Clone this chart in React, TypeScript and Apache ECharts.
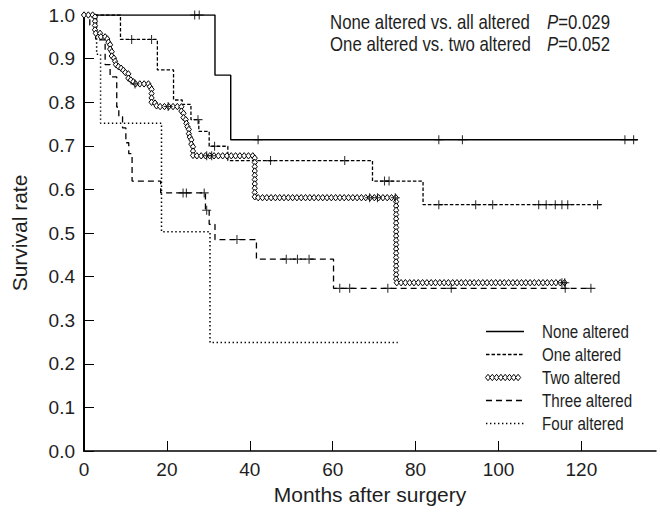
import React, { useEffect, useRef } from "react";
import * as echarts from "echarts";

// ---------- data ----------
const xTickValues = [0, 20, 40, 60, 80, 100, 120];

const seriesNames = ["None altered", "One altered", "Two altered", "Three altered", "Four altered"];

const noneT = [0, 31.6, 35.4, 133.6];
const noneS = [1.0, 0.862, 0.714, 0.714];
const noneCensT = [26.7, 27.8, 42.0, 85.6, 91.3, 130.5, 132.6];
const noneCensS = [1.0, 1.0, 0.714, 0.714, 0.714, 0.714, 0.714];

const oneT = [0, 8.8, 17.7, 21.6, 23.7, 25.8, 27.7, 30.2, 34.7, 69.6, 81.8, 124.7];
const oneS = [1.0, 0.944, 0.874, 0.805, 0.795, 0.76, 0.733, 0.699, 0.666, 0.619, 0.565, 0.565];
const oneCensT = [11.5, 16.3, 27.5, 31.5, 45.0, 62.9, 72.5, 73.6, 85.6, 94.5, 98.6, 109.7, 111.5, 113.7, 115.3, 116.7, 123.9];
const oneCensS = [0.944, 0.944, 0.76, 0.699, 0.666, 0.666, 0.619, 0.619, 0.565, 0.565, 0.565, 0.565, 0.565, 0.565, 0.565, 0.565, 0.565];

const twoT = [0, 2.65, 3.9, 5.1, 5.9, 6.3, 6.7, 7.5, 8.3, 9.5, 10.7, 11.9, 15.9, 16.3, 17.5, 23.5, 24.0, 24.7, 25.3, 25.9, 26.3, 41.2, 75.3, 116.1];
const twoS = [1.0, 0.958, 0.95, 0.945, 0.937, 0.92, 0.901, 0.886, 0.878, 0.868, 0.851, 0.842, 0.835, 0.798, 0.79, 0.775, 0.76, 0.744, 0.72, 0.699, 0.677, 0.581, 0.386, 0.386];
const twoCensT = [12.3, 20.3, 29.6, 30.8, 68.9, 70.8, 75.1, 115.3, 116.0];
const twoCensS = [0.842, 0.79, 0.677, 0.677, 0.581, 0.581, 0.581, 0.386, 0.386];

const threeT = [0, 1.4, 2.8, 5.1, 6.3, 7.9, 8.4, 9.3, 10.1, 10.8, 11.6, 18.5, 29.3, 30.2, 31.6, 41.6, 60.2, 122.4];
const threeS = [1.0, 0.977, 0.943, 0.886, 0.858, 0.789, 0.767, 0.741, 0.707, 0.682, 0.619, 0.592, 0.552, 0.52, 0.485, 0.44, 0.373, 0.373];
const threeCensT = [23.9, 24.7, 29.0, 29.6, 36.9, 48.8, 51.5, 54.3, 61.7, 64.1, 73.3, 88.6, 116.1, 122.3];
const threeCensS = [0.592, 0.592, 0.592, 0.552, 0.485, 0.44, 0.44, 0.44, 0.373, 0.373, 0.373, 0.373, 0.373, 0.373];

const fourT = [0, 3.05, 4.0, 18.7, 30.4, 75.7];
const fourS = [1.0, 0.91, 0.752, 0.503, 0.249, 0.249];

const pLines = [
  { label: "None altered vs. all altered", p: "0.029" },
  { label: "One altered vs. two altered", p: "0.052" },
];

// ---------- styling ----------
const FONT = '"Liberation Sans", Arial, Helvetica, sans-serif';
const NARROW = 0.82; // horizontal squeeze to imitate a condensed face
const INK = "#1e1e1e";
const PLUS = "path://M0,4.4H10V5.6H0Z M4.4,0H5.6V10H4.4Z";
const DASH_ONE = [3.5, 2];
const DASH_THREE = [6, 4];
const DASH_FOUR = [1.4, 2.6];

const zip = (a: number[], b: number[]) => a.map((v, i) => [v, b[i]]);

function diamond(x: number, y: number) {
  return {
    type: "polygon",
    shape: { points: [[x, y - 3.2], [x + 2.6, y], [x, y + 3.2], [x - 2.6, y]] },
    style: { fill: "#fff", stroke: "#000", lineWidth: 1 },
    silent: true,
  };
}

function diamondsAlong(path: number[][], spacing: number) {
  const out: any[] = [];
  let carry = 0;
  for (let i = 0; i < path.length - 1; i++) {
    const [ax, ay] = path[i];
    const [bx, by] = path[i + 1];
    const len = Math.hypot(bx - ax, by - ay);
    let d = carry;
    while (d <= len) {
      const f = len === 0 ? 0 : d / len;
      out.push(diamond(ax + (bx - ax) * f, ay + (by - ay) * f));
      d += spacing;
    }
    carry = d - len;
  }
  return out;
}

function kmLine(name: string, t: number[], s: number[], dash: any, width = 1.3) {
  return {
    name,
    type: "line",
    step: "end",
    data: zip(t, s),
    showSymbol: false,
    symbol: "none",
    lineStyle: { color: "#000", width, type: dash },
    silent: true,
    z: 3,
  };
}

function cens(name: string, t: number[], s: number[]) {
  return {
    name: name + " censored",
    type: "scatter",
    data: zip(t, s),
    symbol: PLUS,
    symbolSize: 9,
    itemStyle: { color: "#000" },
    silent: true,
    z: 6,
  };
}

function narrowText(text: string, x: number, y: number, size: number, extra: any = {}) {
  return {
    type: "text",
    x,
    y,
    scaleX: NARROW,
    style: { text, fill: INK, fontSize: size, fontFamily: FONT, align: "left", verticalAlign: "middle", ...extra },
    silent: true,
  };
}

function legendGraphic() {
  const x1 = 486;
  const x2 = 524;
  const tx = 542;
  const y0 = 331.5;
  const dy = 23;
  const dashes = [null, DASH_ONE, "diamond", DASH_THREE, DASH_FOUR];
  const els: any[] = [];
  seriesNames.forEach((name, i) => {
    const y = y0 + i * dy;
    const d = dashes[i];
    if (d === "diamond") {
      els.push(...diamondsAlong([[x1 + 2, y], [x2 - 2, y]], 4.3));
    } else {
      els.push({
        type: "line",
        shape: { x1, y1: y, x2, y2: y },
        style: { stroke: "#000", lineWidth: 1.3, lineDash: d || null },
        silent: true,
      });
    }
    els.push(narrowText(name, tx, y, 18.5));
  });
  return els;
}

function annotationGraphic() {
  const els: any[] = [];
  pLines.forEach((ln, i) => {
    const y = 22 + i * 21.5;
    els.push(narrowText(ln.label, 330, y, 20.5));
    els.push(
      narrowText("{i|P}=" + ln.p, 547, y, 20.5, {
        rich: { i: { fontStyle: "italic", fontSize: 20.5, fontFamily: FONT, fill: INK } },
      })
    );
  });
  return els;
}

export default function App() {
  const ref = useRef<HTMLDivElement>(null);

  useEffect(() => {
    if (!ref.current) return;
    const chart = echarts.init(ref.current, null, { renderer: "svg" });

    const twoData = zip(twoT, twoS);

    const option: any = {
      animation: false,
      backgroundColor: "#fff",
      grid: { left: 84, right: 4, top: 15, bottom: 64, containLabel: false },
      xAxis: {
        type: "value",
        min: 0,
        max: 138,
        name: "Months after surgery",
        nameLocation: "middle",
        nameGap: 32,
        nameTextStyle: { fontSize: 21, fontFamily: FONT, color: INK },
        axisLine: { show: true, onZero: false, lineStyle: { color: "#000", width: 1.5 } },
        axisTick: { show: true, inside: true, length: 10, customValues: xTickValues, lineStyle: { color: "#000", width: 1 } },
        axisLabel: {
          customValues: xTickValues,
          fontSize: 19,
          fontFamily: FONT,
          color: INK,
          margin: 9,
          formatter: (v: number) => (v % 20 === 0 ? String(v) : ""),
        },
        splitLine: { show: false },
      },
      yAxis: {
        type: "value",
        min: 0,
        max: 1,
        interval: 0.1,
        name: "Survival rate",
        nameLocation: "middle",
        nameGap: 54,
        nameTextStyle: { fontSize: 21, fontFamily: FONT, color: INK },
        axisLine: { show: true, onZero: false, lineStyle: { color: "#000", width: 2 } },
        axisTick: { show: true, inside: true, length: 10, lineStyle: { color: "#000", width: 1 } },
        axisLabel: {
          fontSize: 19,
          fontFamily: FONT,
          color: INK,
          margin: 9,
          formatter: (v: number) => v.toFixed(1),
        },
        splitLine: { show: false },
      },
      series: [
        kmLine(seriesNames[0], noneT, noneS, "solid", 1.4),
        kmLine(seriesNames[1], oneT, oneS, DASH_ONE),
        {
          name: seriesNames[2],
          type: "custom",
          data: twoData,
          encode: { x: 0, y: 1 },
          silent: true,
          z: 4,
          renderItem: (params: any, api: any) => {
            if (params.dataIndex !== 0) return null;
            const pts = twoData.map((d) => api.coord(d));
            const path: number[][] = [];
            for (let i = 0; i < pts.length; i++) {
              path.push(pts[i]);
              if (i < pts.length - 1) path.push([pts[i + 1][0], pts[i][1]]);
            }
            return { type: "group", children: diamondsAlong(path, 4.3) };
          },
        },
        kmLine(seriesNames[3], threeT, threeS, DASH_THREE),
        kmLine(seriesNames[4], fourT, fourS, DASH_FOUR, 1.5),
        cens(seriesNames[0], noneCensT, noneCensS),
        cens(seriesNames[1], oneCensT, oneCensS),
        cens(seriesNames[2], twoCensT, twoCensS),
        cens(seriesNames[3], threeCensT, threeCensS),
      ],
      graphic: [...annotationGraphic(), ...legendGraphic()],
    };

    chart.setOption(option);
    return () => chart.dispose();
  }, []);

  return (
    <div
      ref={ref}
      style={{ position: "absolute", left: 0, top: 0, width: 660, height: 515, background: "#fff" }}
    />
  );
}
